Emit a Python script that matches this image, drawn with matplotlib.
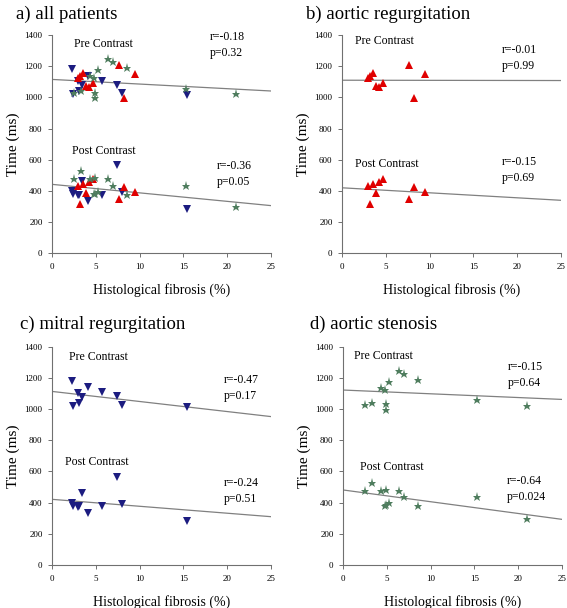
import numpy as np
import matplotlib
matplotlib.use('Agg')
import matplotlib.pyplot as plt

plt.rcParams['font.family'] = ['Liberation Serif', 'DejaVu Serif']

# aortic regurgitation (red up-triangles)
ar_x = [2.9, 3.2, 3.5, 3.85, 4.2, 4.7, 7.6, 8.2, 9.5]
ar_pre = [1125, 1140, 1155, 1075, 1064, 1090, 1208, 998, 1150]
ar_post = [432, 318, 447, 389, 457, 476, 346, 427, 391]

# mitral regurgitation (blue down-triangles)
mr_x = [2.3, 2.35, 2.9, 3.0, 3.35, 4.05, 5.7, 7.45, 7.95, 15.45]
mr_pre = [1182, 1019, 1105, 1041, 1079, 1139, 1107, 1081, 1026, 1013]
mr_post = [397, 378, 372, 376, 464, 333, 376, 566, 393, 284]

# aortic stenosis (green stars)
as_x = [2.45, 3.25, 4.3, 4.75, 4.85, 4.9, 5.25, 6.35, 6.9, 8.5, 15.3, 21.0]
as_pre = [1028, 1038, 1137, 1122, 1030, 994, 1173, 1246, 1224, 1188, 1056, 1021]
as_post = [474, 526, 474, 378, 383, 483, 395, 474, 434, 376, 434, 295]

# regression lines: (intercept, slope) pre / post
line_a = [(1115, -2.96), (442, -5.44)]
line_b = [(1110, -0.08), (420, -3.2)]
line_c = [(1113, -6.44), (421, -4.44)]
line_d = [(1122, -2.4), (481, -7.52)]

stats_a = ['r=-0.18\np=0.32', 'r=-0.36\np=0.05']
stats_b = ['r=-0.01\np=0.99', 'r=-0.15\np=0.69']
stats_c = ['r=-0.47\np=0.17', 'r=-0.24\np=0.51']
stats_d = ['r=-0.15\np=0.64', 'r=-0.64\np=0.024']

red = '#e00000'
blue = '#1c1c80'
green = '#4f7d5e'

series = {
    'ar': (ar_x, ar_pre, ar_post, '^', red, 5.2),
    'mr': (mr_x, mr_pre, mr_post, 'v', blue, 5.2),
    'as': (as_x, as_pre, as_post, '*', green, 6.5),
}

fig = plt.figure(figsize=(5.67, 6.08), dpi=100)
W, H = 567, 608


def make_ax(x0, x1, ytop, ybot):
    return fig.add_axes([x0 / W, 1 - ybot / H, (x1 - x0) / W, (ybot - ytop) / H])


panels = [
    # axes box, title, title pos, series, lines, stats, label pos (pre, post), stats pos
    (make_ax(52.3, 270.7, 35, 253.3), 'a) all patients', (16, 14),
     ['mr', 'ar', 'as'], line_a, stats_a,
     [(5.9, 1345), (5.9, 658)], [(18.0, 1335), (18.8, 510)]),
    (make_ax(342.3, 560.7, 35, 253.3), 'b) aortic regurgitation', (306, 14),
     ['ar'], line_b, stats_b,
     [(4.8, 1360), (5.1, 573)], [(18.3, 1253), (18.3, 535)]),
    (make_ax(52.3, 270.7, 346.7, 565), 'c) mitral regurgitation', (20, 324),
     ['mr'], line_c, stats_c,
     [(5.3, 1335), (5.1, 658)], [(19.6, 1133), (19.6, 474)]),
    (make_ax(343.3, 561.7, 346.7, 565), 'd) aortic stenosis', (310, 324),
     ['as'], line_d, stats_d,
     [(4.6, 1340), (5.5, 630)], [(18.8, 1220), (18.7, 488)]),
]

for ax, title, tpos, keys, lines, stats, lpos, spos in panels:
    xx = np.array([0, 25])
    for b, m in lines:
        ax.plot(xx, b + m * xx, color='#808080', lw=0.9, zorder=1)
    for k in keys:
        x, pre, post, mk, col, ms = series[k]
        ax.plot(x, pre, mk, color=col, ms=ms, mew=0, zorder=3)
        ax.plot(x, post, mk, color=col, ms=ms, mew=0, zorder=3)
    ax.text(lpos[0][0], lpos[0][1], 'Pre Contrast', fontsize=8.5, ha='center', va='center')
    ax.text(lpos[1][0], lpos[1][1], 'Post Contrast', fontsize=8.5, ha='center', va='center')
    ax.text(spos[0][0], spos[0][1], stats[0], fontsize=8.5, ha='left', va='center', linespacing=1.45)
    ax.text(spos[1][0], spos[1][1], stats[1], fontsize=8.5, ha='left', va='center', linespacing=1.45)

    ax.set_xlim(0, 25)
    ax.set_ylim(0, 1400)
    ax.set_xticks(range(0, 26, 5))
    ax.set_yticks(range(0, 1401, 200))
    ax.spines['top'].set_visible(False)
    ax.spines['right'].set_visible(False)
    for s in ['left', 'bottom']:
        ax.spines[s].set_color('#707070')
        ax.spines[s].set_linewidth(0.8)
    ax.tick_params(labelsize=6.5, length=3, width=0.7, color='#707070', pad=4)
    ax.set_ylabel('Time (ms)', fontsize=11, labelpad=3)
    ax.set_xlabel('Histological fibrosis (%)', fontsize=10, labelpad=9)
    fig.text(tpos[0] / W, 1 - tpos[1] / H, title, fontsize=13.5, ha='left', va='center')

fig.savefig('out.png', dpi=100)
